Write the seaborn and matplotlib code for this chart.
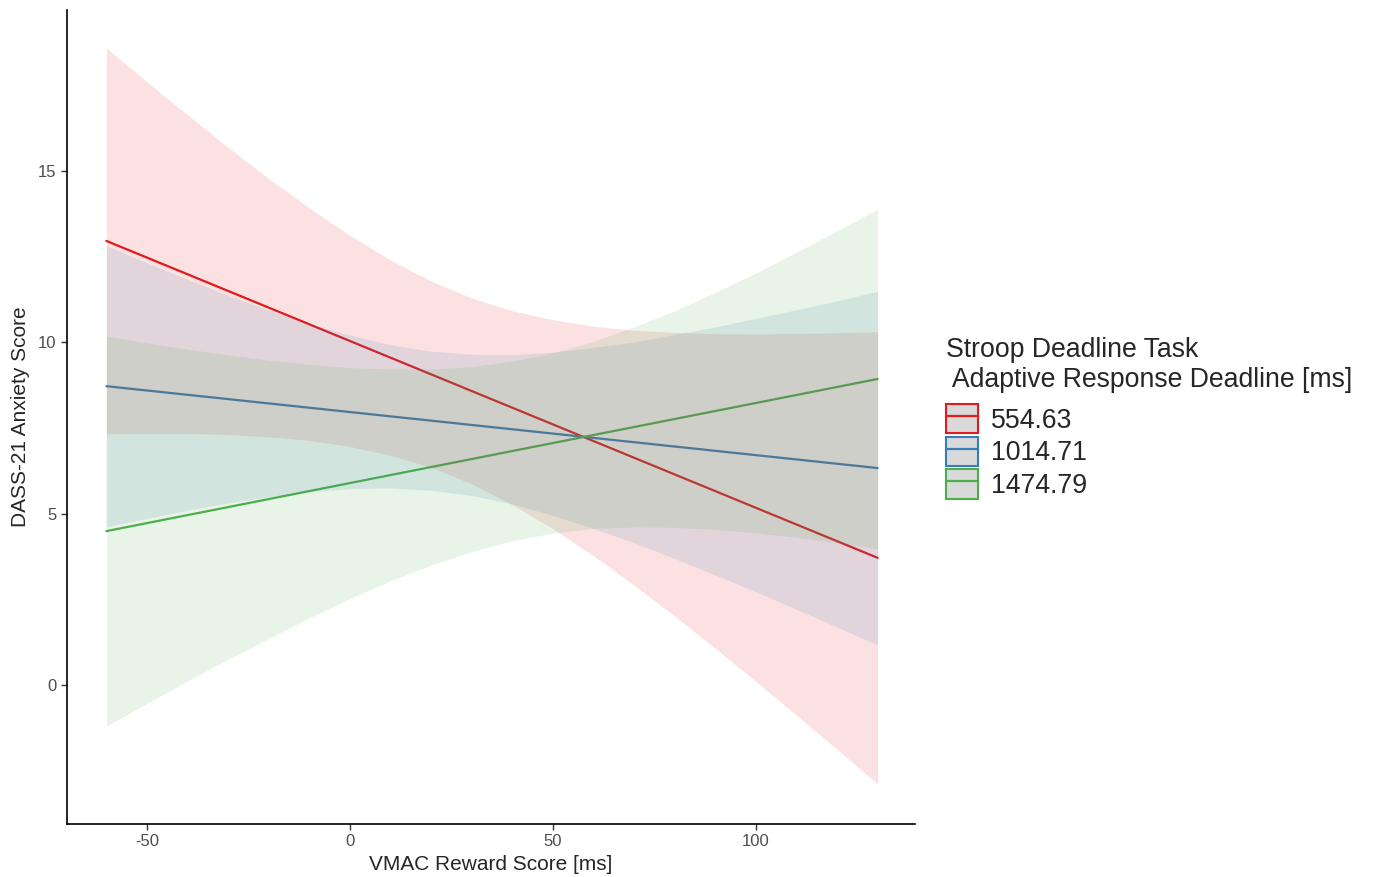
import numpy as np
import pandas as pd
import seaborn as sns
import matplotlib.pyplot as plt
from matplotlib.patches import Patch
from matplotlib.lines import Line2D

# fitted lines (end points of the VMAC range)
x_line = [-60, 130]
fit_554 = [12.96, 3.71]
fit_1014 = [8.72, 6.33]
fit_1474 = [4.49, 8.93]

x_band = [-60, -50, -40, -30, -20, -10, 0, 10, 20, 30, 40, 50, 60, 70, 80, 90, 100, 110, 120, 130]
lo_554 = [7.33, 7.34, 7.34, 7.31, 7.24, 7.14, 6.96, 6.70, 6.35, 5.87, 5.26, 4.56, 3.77, 2.91, 2.01, 1.07, 0.10, -0.88, -1.88, -2.89]
hi_554 = [18.59, 17.60, 16.64, 15.69, 14.78, 13.92, 13.12, 12.40, 11.79, 11.29, 10.92, 10.66, 10.47, 10.35, 10.29, 10.25, 10.24, 10.26, 10.28, 10.31]
lo_1014 = [4.62, 4.86, 5.10, 5.31, 5.49, 5.64, 5.73, 5.75, 5.68, 5.53, 5.28, 4.95, 4.57, 4.15, 3.69, 3.21, 2.72, 2.21, 1.69, 1.17]
hi_1014 = [12.82, 12.32, 11.84, 11.37, 10.93, 10.54, 10.21, 9.93, 9.74, 9.65, 9.64, 9.71, 9.85, 10.01, 10.23, 10.45, 10.70, 10.95, 11.21, 11.49]
lo_1474 = [-1.20, -0.54, 0.12, 0.75, 1.36, 1.96, 2.52, 3.04, 3.50, 3.89, 4.21, 4.43, 4.57, 4.61, 4.60, 4.54, 4.44, 4.31, 4.15, 3.97]
hi_1474 = [10.18, 9.98, 9.80, 9.63, 9.48, 9.36, 9.26, 9.22, 9.22, 9.29, 9.45, 9.69, 10.03, 10.45, 10.92, 11.46, 12.02, 12.63, 13.25, 13.89]

levels = ['554.63', '1014.71', '1474.79']
colors = ['#E41A1C', '#377EB8', '#4DAF4A']

lines = pd.DataFrame({
    'VMAC': x_line * 3,
    'DASS': fit_554 + fit_1014 + fit_1474,
    'Deadline': [lv for lv in levels for _ in x_line],
})

sns.set_theme(style='ticks')
plt.rcParams['font.family'] = ['Liberation Sans', 'DejaVu Sans']
plt.rcParams['axes.unicode_minus'] = False

fig = plt.figure(figsize=(13.73, 8.77), dpi=100)
ax = fig.add_axes([0.0488, 0.0604, 0.6176, 0.9282])

sns.lineplot(data=lines, x='VMAC', y='DASS', hue='Deadline', hue_order=levels,
             palette=colors, linewidth=1.6, legend=False, ax=ax, zorder=2)

# ribbons go on top of the lines, like in the original
for lo, hi, c in zip([lo_554, lo_1014, lo_1474], [hi_554, hi_1014, hi_1474], colors):
    ax.fill_between(x_band, lo, hi, color=c, alpha=0.13, linewidth=0, zorder=3)

ax.set_xlim(-69.7, 139.2)
ax.set_ylim(-4.06, 19.7)
ax.set_xticks([-50, 0, 50, 100])
ax.set_yticks([0, 5, 10, 15])
ax.tick_params(labelsize=12, labelcolor='#4D4D4D', color='#333333', length=4, width=1)
ax.set_xlabel('VMAC Reward Score [ms]', fontsize=15, labelpad=4)
ax.set_ylabel('DASS-21 Anxiety Score', fontsize=15, labelpad=6)
for s in ['left', 'bottom']:
    ax.spines[s].set_linewidth(1.2)
    ax.spines[s].set_color('black')
sns.despine(ax=ax)

handles = [(Patch(facecolor='#D9D9D9', edgecolor=c, linewidth=1.5),
            Line2D([], [], color=c, linewidth=1.6)) for c in colors]
leg = fig.legend(handles, levels,
                 title='Stroop Deadline Task\n Adaptive Response Deadline [ms]',
                 loc='upper left', bbox_to_anchor=(946 / 1373, 1 - 337 / 877),
                 frameon=False, fontsize=19.2, title_fontsize=19.2, alignment='left',
                 handlelength=1.2, handleheight=1.3, handletextpad=0.5,
                 labelspacing=0.12, borderpad=0, borderaxespad=0)
leg._legend_box.sep = 8

fig.savefig('out.png', dpi=100)
